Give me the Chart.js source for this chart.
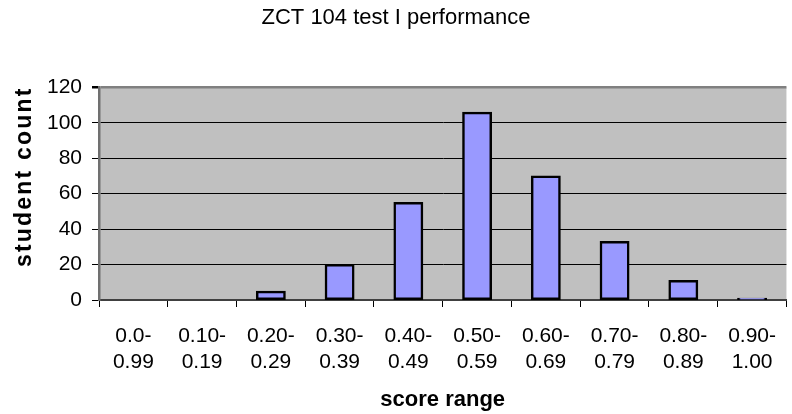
<!DOCTYPE html>
<html>
<head>
<meta charset="utf-8">
<title>ZCT 104 test I performance</title>
<script src="https://cdn.jsdelivr.net/npm/chart.js@4.4.1/dist/chart.umd.min.js"></script>
<style>
  html, body { margin: 0; padding: 0; background: #fff; }
  #wrap { width: 792px; height: 414px; position: relative; }
</style>
</head>
<body>
<div id="wrap"><canvas id="chart"></canvas></div>
<script>
"use strict";

// score ranges, two lines each as in the original axis labels
const SCORE_RANGES = [
  ["0.0-", "0.99"], ["0.10-", "0.19"], ["0.20-", "0.29"], ["0.30-", "0.39"],
  ["0.40-", "0.49"], ["0.50-", "0.59"], ["0.60-", "0.69"], ["0.70-", "0.79"],
  ["0.80-", "0.89"], ["0.90-", "1.00"],
];
const STUDENT_COUNTS = [0, 0, 5, 20, 55, 106, 70, 33, 11, 1];
const Y_MIN = 0, Y_MAX = 120, Y_STEP = 20;

const CHART_TITLE = "ZCT 104 test I performance";
const X_TITLE = "score range";
const Y_TITLE = "student count";

Chart.defaults.font.family = "'Liberation Sans', Arial, sans-serif";
Chart.defaults.color = "#000";

/* grey plot-area fill, as in the old spreadsheet chart */
const plotBackground = {
  id: "plotBackground",
  beforeDraw(chart) {
    const { ctx, chartArea: a } = chart;
    ctx.save();
    ctx.fillStyle = "#c0c0c0";
    ctx.fillRect(a.left, a.top, a.right - a.left, a.bottom - a.top);
    ctx.restore();
  },
};

/* y-axis title, drawn a bit above the plot centre like the reference */
const yTitle = {
  id: "yTitle",
  afterDraw(chart) {
    const { ctx, chartArea: a } = chart;
    ctx.save();
    ctx.translate(25, (a.top + a.bottom) / 2 - 17);
    ctx.rotate(-Math.PI / 2);
    ctx.font = "bold 23px 'Liberation Sans', Arial, sans-serif";
    ctx.letterSpacing = "2.2px";
    ctx.fillStyle = "#000";
    ctx.textAlign = "center";
    ctx.textBaseline = "middle";
    ctx.fillText(Y_TITLE, 0, 0);
    ctx.restore();
  },
};

const ctx = document.getElementById("chart").getContext("2d");
new Chart(ctx, {
  type: "bar",
  data: {
    labels: SCORE_RANGES,
    datasets: [{
      label: Y_TITLE,
      data: STUDENT_COUNTS,
      backgroundColor: "#9999ff",
      borderColor: "#000",
      borderWidth: 2.5,
      borderSkipped: false,
      inflateAmount: 0.5,
      barPercentage: 0.42,
      categoryPercentage: 1.0,
    }],
  },
  options: {
    responsive: true,
    maintainAspectRatio: false,
    animation: false,
    layout: { padding: { left: 0, right: 0, top: 0, bottom: 0 } },
    plugins: {
      legend: { display: false },
      tooltip: { enabled: false },
      title: {
        display: true,
        text: CHART_TITLE,
        font: { size: 22, weight: "normal" },
        color: "#000",
        padding: { top: 5, bottom: 56 },
      },
    },
    scales: {
      x: {
        offset: true,
        afterFit: s => { s.height = 114; },
        border: { display: true, color: "#404040", width: 2 },
        grid: {
          offset: true,
          drawOnChartArea: false,
          drawTicks: true,
          tickLength: 7,
          color: "#000",
        },
        ticks: {
          font: { size: 21, lineHeight: 1.24 },
          padding: 16,
          maxRotation: 0,
          autoSkip: false,
        },
        title: {
          display: true,
          text: X_TITLE,
          font: { size: 22, weight: "bold" },
          padding: { top: 0, bottom: 1 },
        },
      },
      y: {
        min: Y_MIN,
        max: Y_MAX,
        afterFit: s => { s.width = 99; },
        border: { display: true, color: "#707070", width: 2.5 },
        grid: {
          color: c => (c.tick && c.tick.value === Y_MAX ? "#808080" : "#000"),
          lineWidth: c => (c.tick && c.tick.value === Y_MAX ? 2.5 : 1),
          tickColor: "#000",
          drawTicks: true,
          tickLength: 7,
        },
        ticks: {
          stepSize: Y_STEP,
          font: { size: 21 },
          padding: 10,
        },
      },
    },
  },
  plugins: [plotBackground, yTitle],
});
</script>
</body>
</html>
